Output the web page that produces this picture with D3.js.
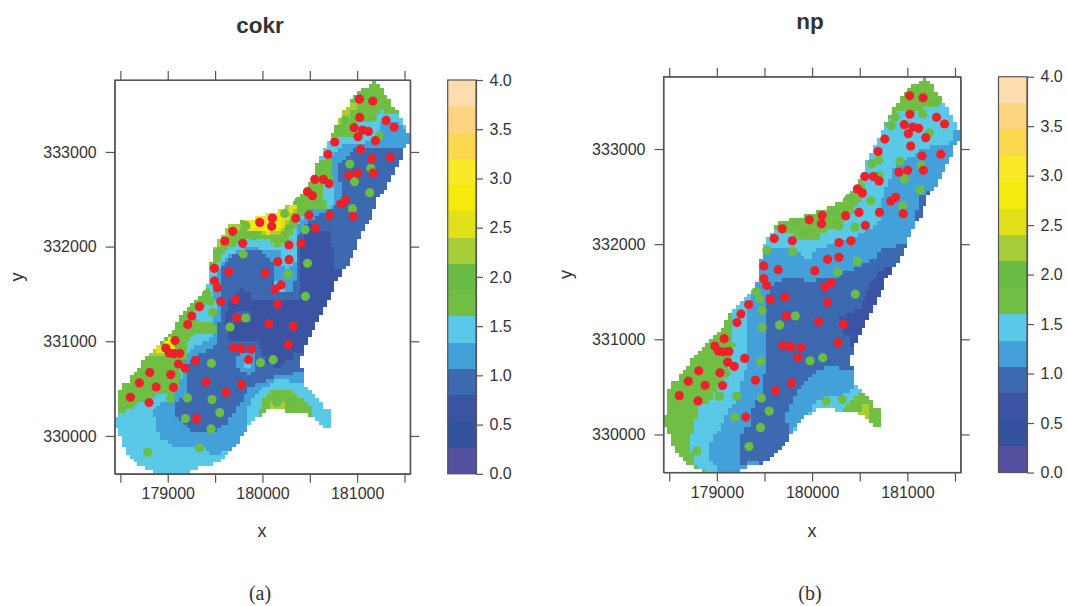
<!DOCTYPE html>
<html>
<head>
<meta charset="utf-8">
<script src="https://cdn.jsdelivr.net/npm/d3@7"></script>
<style>
  html, body { margin: 0; padding: 0; background: #fff; }
  svg { display: block; }
  text { font-family: "Liberation Sans", Arial, sans-serif; fill: #333; }
  .domain, .tick line { stroke: #555; }
</style>
</head>
<body>
<div id="my_dataviz"></div>
<script>
// colour levels of the 0-4 key, bottom to top
var levelColors = ["#544f9f","#33539f","#3a53a3","#3d69b0","#43a0d8","#5ac9e8","#70bf44","#69bd45",
                   "#a7cd39","#e0e01b","#f4ea0b","#f9e926","#fad74c","#fdd580","#fddcae"];
var keyTicks = [0, 0.5, 1, 1.5, 2, 2.5, 3, 3.5, 4];
var xTicks = [178500, 179000, 179500, 180000, 180500, 181000, 181500];
var xLabels = [179000, 180000, 181000];
var yTicks = [330000, 331000, 332000, 333000];

// edge of the prediction grid, map units
var gridOutline = [[181179,333759],[181242,333707],[181277,333636],[181320,333601],[181358,333513],[181401,333443],
  [181446,333390],[181489,333312],[181524,333231],[181559,333196],[181559,333119],[181489,333038],[181489,332957],
  [181446,332886],[181401,332802],[181358,332721],[181323,332640],[181277,332556],[181200,332485],[181158,332323],
  [181119,332246],[181038,332140],[180996,332000],[180925,331841],[180844,331735],[180756,331577],[180714,331478],
  [180679,331401],[180598,331243],[180556,331155],[180521,331084],[180485,331007],[180440,330926],[180440,330838],
  [180398,330820],[180398,330732],[180440,330715],[180440,330556],[180475,330521],[180521,330468],[180556,330398],
  [180609,330363],[180644,330310],[180725,330239],[180725,330088],[180644,330088],[180602,330162],[180521,330204],
  [180433,330246],[180285,330239],[180239,330275],[180081,330282],[179975,330204],[179869,330134],[179834,330046],
  [179764,330004],[179764,329923],[179676,329870],[179605,329799],[179563,329722],[179405,329676],[179246,329641],
  [179246,329610],[178877,329610],[178761,329652],[178644,329718],[178560,329835],[178514,329951],[178475,330063],
  [178447,330127],[178447,330204],[178475,330222],[178475,330443],[178518,330521],[178602,330598],[178722,330760],
  [178806,330873],[178877,330950],[178961,331000],[179077,331155],[179120,331243],[179236,331359],[179370,331524],
  [179440,331612],[179440,331753],[179482,331964],[179524,332042],[179595,332158],[179679,332239],[179841,332281],
  [180003,332316],[180116,332369],[180204,332387],[180285,332439],[180398,332556],[180485,332633],[180556,332791],
  [180598,332922],[180679,333073],[180756,333238],[180838,333407],[180918,333513],[181003,333619],[181119,333707]];

// cokr zones, painted in this order over a light blue base
var cokrMid = [[181735,333213],[181541,333213],[181435,333301],[181259,333301],[181206,333161],[181066,333090],[180872,333090],
  [180766,333002],[180714,332879],[180714,332738],[180756,332651],[180756,332457],[180679,332394],[180503,332387],[180433,332316],
  [180362,332211],[180345,332100],[180345,331800],[180256,331753],[180211,331834],[180211,331981],[180063,331946],[179975,331981],
  [179852,332000],[179746,331964],[179605,331876],[179535,331753],[179500,331594],[179482,331436],
  [179535,331401],[179500,331260],[179482,331067],[179412,330996],[179253,330926],[179201,330838],[179148,330697],
  [179130,330521],[179077,330433],[178919,330327],[178849,330275],[178866,330134],[178919,329993],[179077,329887],
  [179341,329887],[179482,329799],[179623,329835],[179799,329887],[179834,330099],[179834,330204],[179869,330345],
  [179975,330486],[180151,330591],[180345,330574],[180440,330539],[180573,330627]];
var cokrLow = [[181735,333037],[181481,333037],[181136,333037],[180960,333020],[180802,332879],[180802,332738],
  [180837,332651],[180855,332527],[180785,332422],[180644,332369],[180574,332316],[180468,332246],[180380,332110],
  [180344,332087],[180344,331834],[180116,331834],[180116,331841],[180010,331939],[179852,331957],[179711,331911],
  [179605,331841],[179553,331735],[179553,331647],[179570,331436],[179570,331331],[179517,331119],[179500,330961],
  [179306,330855],[179208,330732],[179208,330433],[179077,330363],[179077,330239],[179208,330063],[179500,330046],
  [179623,330134],[179676,330222],[179834,330451],[179869,330521],[180151,330627],[180440,330679],[180573,330732]];
var cokrDeep = [[180503,332228],[180714,332140],[180749,331929],[180756,331760],[180996,331753],[180644,331049],[180503,330908],
  [180440,330873],[180345,330873],[180292,330803],[180186,330732],[180045,330750],[180010,330873],[179940,330996],
  [179799,331007],[179641,331014],[179641,331084],[179605,331207],[179623,331348],[179658,331454],[179764,331559],
  [179887,331506],[179904,331436],[180098,331436],[180327,331420],[180400,331470],[180415,331718],[180415,331964],[180433,332105]];
var cokrDeepHole = [[179686,331295],[179876,331313],[179876,331197],[179686,331197]];
var cokrSpotMid = [[179722,330855],[179922,330908],[179922,330697],[179852,330644],[179722,330715]];
var cokrSpotHigh = [[179799,330831],[179887,330831],[179887,330704],[179799,330704]];
var cokrFinger = [[180116,331834],[180344,331834],[180337,331517],[180116,331517]];
var cokrFingerTop = [[180211,331834],[180337,331834],[180256,331753]];
var cokrFingerEnd = [[180116,331622],[180239,331636],[180239,331517],[180116,331517]];
var cokrGreenTop = [[180714,333161],[180978,333161],[181013,333301],[181206,333354],[181224,333425],[181435,333407],
  [181489,333513],[181489,333865],[180714,333865]];
var cokrGreenBank = [[180598,332922],[180714,332914],[180714,332760],[180644,332720],[180644,332633],[180644,332510],
  [180679,332475],[180679,332415],[180485,332387],[180415,332334],[180345,332228],[180274,332052],[180151,331999],
  [180028,332087],[179834,332070],[179676,331999],[179605,331947],[179500,331806],[179447,331753],[179271,331753],
  [179271,333161],[180503,333161]];
var cokrGreenSouth = [[179412,331577],[179465,331489],[179429,331401],[179271,331295],[179306,331225],[179377,331207],
  [179517,331172],[179510,331084],[179429,331067],[179271,331067],[179208,330996],[179208,330908],[179183,330820],
  [179137,330732],[179137,330556],[179077,330451],[178954,330433],[178796,330398],[178708,330363],[178602,330275],
  [178514,330232],[178426,330232],[178426,331753],[179412,331753]];
var cokrGreenIsland = [[179957,330204],[180003,330363],[180081,330479],[180327,330479],[180362,330398],[180440,330398],
  [180521,330275],[180521,330187],[179957,330187]];
var cokrLimeIsland = [[180081,330380],[180239,330380],[180239,330275],[180081,330275]];
var cokrLimeSouth = [[178778,330838],[178972,330845],[178972,330961],[178866,330961]];
var cokrOliveSouth = [[178877,330957],[178972,330957],[178972,330873],[178877,330873]];
var cokrYellowSouth = [[178961,331000],[179095,331067],[179113,330961],[179060,330908],[178961,330908]];
var cokrLimeTop = [[180918,333513],[181013,333531],[181013,333443],[180908,333425],[180908,333319],[180802,333284],
  [180802,333319],[180855,333425]];
var cokrLimeEdge = [[179641,332246],[179834,332263],[179781,332193],[179623,332087],[179524,331964],[179447,331964]];
var cokrLimeHot = [[179781,332263],[180292,332457],[180362,332387],[180309,332281],[180257,332175],[180186,332123],
  [180045,332105],[180010,332147],[179834,332168]];
var cokrOliveHot = [[179817,332274],[180257,332404],[180274,332351],[180239,332211],[180169,332147],[180028,332133],
  [179993,332168],[179817,332182]];
var cokrOliveBit = [[180285,332439],[180355,332439],[180355,332387],[180285,332369]];
var cokrYellowHot = [[179841,332274],[180123,332358],[180204,332369],[180204,332228],[180151,332175],[180045,332158],
  [179957,332182],[179841,332204]];
var cokrOrangeHot = [[180010,332316],[180081,332334],[180081,332246],[180010,332246]];

var cokrZones = [cokrMid, cokrLow, cokrDeep, cokrDeepHole, cokrSpotMid, cokrSpotHigh, cokrFinger, cokrFingerTop, cokrFingerEnd,
  cokrGreenTop, cokrGreenBank, cokrGreenSouth, cokrGreenIsland, cokrLimeIsland, cokrLimeSouth, cokrOliveSouth, cokrYellowSouth,
  cokrLimeTop, cokrLimeEdge, cokrLimeHot, cokrOliveHot, cokrOliveBit, cokrYellowHot, cokrOrangeHot];
var cokrLevels = [4, 3, 2, 3, 4, 5, 4, 5, 5, 6, 6, 6, 6, 8, 8, 9, 10, 8, 8, 8, 9, 9, 10, 12];

// np zones, painted in this order over a green base
var npLight = [[181730,333480],[181345,333463],[181100,333410],[180925,333410],[180820,333305],[180750,333200],[180505,333200],
  [180480,332710],[180540,332640],[180575,332482],[180470,332447],[180435,332325],[180348,332255],[180278,332168],
  [180190,332150],[180085,332115],[180068,332045],[179840,332038],[179805,332115],[179612,332143],[179455,332150],
  [179035,331275],[179157,331258],[179157,331012],[179203,330942],[179157,330872],[179157,330820],[179122,330715],
  [179087,330575],[179017,330505],[178930,330347],[178807,330295],[178762,330085],[178720,329910],[178762,329665],
  [178877,329640],[178877,329560],[180260,329560],[180290,330220],[180400,330347],[180505,330435],[180600,330500]];
var npMid = [[181730,333200],[181485,333193],[181485,333112],[181443,333042],[181293,333032],[181170,333008],[181065,332938],
  [180960,332885],[180855,332780],[180820,332675],[180785,332605],[180715,332430],[180733,332290],[180645,332185],
  [180505,332115],[180400,332062],[180225,332010],[180050,331940],[179963,331835],[179875,331887],[179840,331975],
  [179525,331975],[179472,331940],[179385,331835],[179402,331572],[179367,331450],[179322,331345],[179322,330715],
  [179280,330627],[179245,330487],[179192,330347],[179070,330155],[179000,330015],[178958,329945],[178923,329875],
  [178923,329717],[179000,329682],[179000,329560],[179245,329560],[179900,329800],[179805,330050],[179910,330120],
  [179963,330225],[180008,330312],[180120,330382],[180400,330435],[180435,330487],[180442,330557],[180505,330575]];
var npLowStrip = [[181240,332552],[181128,332507],[181118,332395],[181083,332360],[181083,332237],[181300,332237],[181300,332552]];
var npLow = [[180960,331992],[180715,331957],[180680,331870],[180592,331800],[180348,331712],[180278,331642],[180068,331642],
  [180032,331590],[179910,331597],[179910,331642],[179717,331635],[179630,331590],[179560,331520],[179518,331415],
  [179518,330680],[179472,330627],[179472,330487],[179437,330365],[179367,330277],[179350,330085],[179280,330067],
  [179245,329945],[179245,329682],[179402,329717],[179490,329675],[179560,329735],[179800,329800],[179752,330015],
  [179752,330085],[179717,330190],[179770,330312],[179840,330452],[179892,330522],[179963,330592],[180120,330715],
  [180278,330715],[180285,330680],[180442,330680],[180505,330750],[181300,332000]];
var npDeep = [[180837,331747],[180697,331730],[180645,331625],[180557,331467],[180522,331345],[180435,331292],[180295,331240],
  [180312,331082],[180400,331002],[180400,330925],[180470,330918],[180900,331750]];
var npLimeIsland = [[180442,330225],[180505,330260],[180522,330312],[180603,330312],[180603,330197],[180557,330155],[180522,330155]];

var npZones = [npLight, npMid, npLowStrip, npLow, npDeep, npLimeIsland];
var npLevels = [5, 4, 3, 3, 2, 8];

// observation points, same in both maps
var greenPoints = [[181073,333612],[181299,333485],[181161,333369],[180873,333337],[180830,333245],[181232,333168],
  [180697,332883],[180626,332844],[180922,332872],[181144,332827],[180971,332686],[180704,332721],[181133,332570],
  [180383,332478],[180616,332457],[180950,332401],[180235,332351],[179824,332221],[180450,332179],[179909,332115],
  [180280,332190],[179525,331936],[179796,331922],[180475,331823],[180271,331707],[179412,331500],[179447,331426],
  [179475,331306],[179824,331246],[179475,331126],[179658,331151],[180454,331475],[179461,330767],[179979,330774],
  [180112,330806],[179095,330641],[179110,330970],[179028,330398],[179208,330401],[179468,330384],[180151,330352],
  [180316,330370],[179549,330246],[179187,330183],[179458,330074],[179338,329873],[178789,329827]];
var redPoints = [[181024,333559],[181165,333538],[181027,333365],[181306,333333],[181390,333263],[180968,333256],
  [181059,333231],[181119,333217],[181010,333161],[181193,333119],[180763,333105],[181035,333031],[180693,332974],
  [181154,332929],[181351,332946],[180911,332756],[181003,332777],[181168,332777],[180552,332710],[180644,332710],
  [180704,332665],[180475,332580],[180528,332538],[180876,332492],[180827,332453],[180707,332334],[180492,332334],
  [180352,332299],[180957,332320],[180105,332302],[179971,332256],[180098,332214],[180559,332197],[179686,332161],
  [179602,332059],[179792,332035],[180281,332017],[180408,332035],[180281,331862],[180162,331841],[179493,331771],
  [179644,331732],[180028,331721],[179493,331637],[179524,331566],[180133,331552],[180197,331595],[179715,331443],
  [179560,331422],[180162,331390],[179334,331366],[179253,331267],[179729,331246],[179211,331176],[180067,331186],
  [180327,331158],[179077,331007],[180274,330965],[179693,330933],[179774,330922],[179883,330915],[178979,330929],
  [179018,330876],[179067,330869],[179127,330873],[179292,330799],[179852,330806],[179113,330760],[179183,330715],
  [178810,330669],[179032,330648],[179405,330570],[178701,330560],[179781,330542],[178877,330517],[179060,330514],
  [179616,330461],[178606,330408],[178803,330352],[179303,330183]];

var svg = d3.select("#my_dataviz")
  .append("svg")
    .attr("width", 1067)
    .attr("height", 606);

function drawPanel(p) {
  var x = d3.scaleLinear().domain([178440, 181560]).range([p.left, p.right]);
  var y = d3.scaleLinear().domain([329600, 333760]).range([p.bottom, p.top]);
  var g = svg.append("g");

  // 40 m grid cells, each takes the level of the last zone it falls in
  var cells = [];
  d3.range(178460, 181560, 40).forEach(function(cx) {
    d3.range(329620, 333760, 40).forEach(function(cy) {
      if (!d3.polygonContains(gridOutline, [cx, cy])) return;
      var level = p.base;
      p.zones.forEach(function(zone, i) {
        if (d3.polygonContains(zone, [cx, cy])) level = p.levels[i];
      });
      cells.push({x: cx, y: cy, level: level});
    });
  });
  g.selectAll(".cell")
    .data(cells)
    .enter()
    .append("rect")
      .attr("x", function(d) { return x(d.x - 20); })
      .attr("y", function(d) { return y(d.y + 20); })
      .attr("width", x(40) - x(0))
      .attr("height", y(0) - y(40))
      .attr("shape-rendering", "crispEdges")
      .attr("fill", function(d) { return levelColors[d.level]; });

  // points, the red ones on top
  g.selectAll(".green")
    .data(greenPoints)
    .enter()
    .append("circle")
      .attr("cx", function(d) { return x(d[0]); })
      .attr("cy", function(d) { return y(d[1]); })
      .attr("r", 4.6)
      .attr("fill", "#6abd45");
  g.selectAll(".red")
    .data(redPoints)
    .enter()
    .append("circle")
      .attr("cx", function(d) { return x(d[0]); })
      .attr("cy", function(d) { return y(d[1]); })
      .attr("r", 4.6)
      .attr("fill", "#ee2029");

  // axes on all four sides, labels only left and bottom
  var xFormat = function(d) { return xLabels.indexOf(d) >= 0 ? d : ""; };
  function styleAxis(sel) { sel.style("font-size", "16px").selectAll("path,line").style("stroke-width", 1.2); }
  g.append("g")
    .attr("transform", "translate(0," + p.bottom + ")")
    .call(d3.axisBottom(x).tickValues(xTicks).tickFormat(xFormat).tickSize(9).tickSizeOuter(0).tickPadding(5))
    .call(styleAxis);
  g.append("g")
    .attr("transform", "translate(0," + p.top + ")")
    .call(d3.axisTop(x).tickValues(xTicks).tickFormat("").tickSize(9).tickSizeOuter(0))
    .call(styleAxis);
  g.append("g")
    .attr("transform", "translate(" + p.left + ",0)")
    .call(d3.axisLeft(y).tickValues(yTicks).tickFormat(d3.format("d")).tickSize(9).tickSizeOuter(0).tickPadding(9))
    .call(styleAxis);
  g.append("g")
    .attr("transform", "translate(" + p.right + ",0)")
    .call(d3.axisRight(y).tickValues(yTicks).tickFormat("").tickSize(9).tickSizeOuter(0))
    .call(styleAxis);

  // colour key
  var k = d3.scaleLinear().domain([0, 4]).range([p.bottom, p.top]);
  var step = 4 / levelColors.length;
  g.selectAll(".key")
    .data(levelColors)
    .enter()
    .append("rect")
      .attr("x", p.keyLeft)
      .attr("y", function(d, i) { return k((i + 1) * step); })
      .attr("width", p.keyRight - p.keyLeft)
      .attr("height", k(0) - k(step))
      .attr("shape-rendering", "crispEdges")
      .attr("fill", function(d) { return d; });
  g.append("rect")
    .attr("x", p.keyLeft)
    .attr("y", p.top)
    .attr("width", p.keyRight - p.keyLeft)
    .attr("height", p.bottom - p.top)
    .attr("fill", "none")
    .attr("stroke", "#555")
    .attr("stroke-width", 1.2);
  g.append("g")
    .attr("transform", "translate(" + p.keyRight + ",0)")
    .call(d3.axisRight(k).tickValues(keyTicks).tickFormat(d3.format(".1f")).tickSize(7).tickSizeOuter(0).tickPadding(6.5))
    .call(styleAxis);

  // frame
  g.append("rect")
    .attr("x", p.left)
    .attr("y", p.top)
    .attr("width", p.right - p.left)
    .attr("height", p.bottom - p.top)
    .attr("fill", "none")
    .attr("stroke", "#555")
    .attr("stroke-width", 1.2);

  // titles and captions
  g.append("text")
    .attr("x", p.mid)
    .attr("y", p.titleY)
    .style("text-anchor", "middle")
    .style("font-size", "22.5px")
    .style("font-weight", "bold")
    .text(p.title);
  g.append("text")
    .attr("x", p.mid + 2)
    .attr("y", 537)
    .style("text-anchor", "middle")
    .style("font-size", "18px")
    .text("x");
  g.append("text")
    .attr("transform", "translate(" + (p.left - 92) + "," + ((p.top + p.bottom) / 2) + ") rotate(-90)")
    .style("text-anchor", "middle")
    .style("font-size", "18px")
    .text("y");
  g.append("text")
    .attr("x", p.mid)
    .attr("y", 600)
    .style("text-anchor", "middle")
    .style("font-family", "'Liberation Serif', serif")
    .style("font-size", "20px")
    .text(p.caption);
}

drawPanel({left: 114.7, right: 410.2, top: 80, bottom: 473.8, keyLeft: 447.7, keyRight: 476, mid: 260, titleY: 33,
  title: "cokr", caption: "(a)", base: 5, zones: cokrZones, levels: cokrLevels});
drawPanel({left: 663.5, right: 960.7, top: 76.7, bottom: 472.5, keyLeft: 998.5, keyRight: 1027, mid: 810, titleY: 29,
  title: "np", caption: "(b)", base: 6, zones: npZones, levels: npLevels});
</script>
</body>
</html>
